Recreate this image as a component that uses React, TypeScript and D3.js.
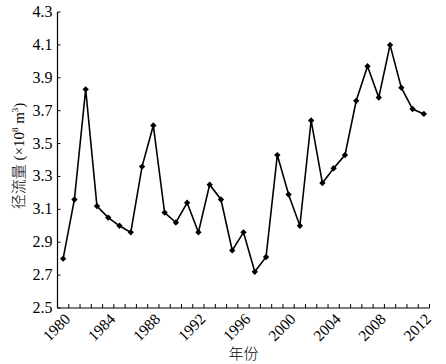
import React from 'react';
import * as d3 from 'd3';

// runoff per year (10^8 m3)
const years = d3.range(1980, 2013);
const runoff = [
  2.80, 3.16, 3.83, 3.12, 3.05, 3.00, 2.96, 3.36, 3.61, 3.08,
  3.02, 3.14, 2.96, 3.25, 3.16, 2.85, 2.96, 2.72, 2.81, 3.43,
  3.19, 3.00, 3.64, 3.26, 3.35, 3.43, 3.76, 3.97, 3.78, 4.10,
  3.84, 3.71, 3.68,
];
const yTicks = [2.5, 2.7, 2.9, 3.1, 3.3, 3.5, 3.7, 3.9, 4.1, 4.3];
const xLabels = [1980, 1984, 1988, 1992, 1996, 2000, 2004, 2008, 2012];

const W = 446;
const H = 364;
const left = 57.5;
const right = 429.5;
const top = 12;
const bottom = 308;
const serif = 'Liberation Serif';
const cjk = 'Noto Sans CJK SC';

export default function App() {
  const x = d3.scaleBand<number>().domain(years).range([left, right]).paddingInner(0);
  const y = d3.scaleLinear().domain([2.5, 4.3]).range([bottom, top]);
  const cx = (yr: number) => (x(yr) as number) + x.bandwidth() / 2;

  const line = d3.line<number>()
    .x((_, i) => cx(years[i]))
    .y(d => y(d));

  const marker = d3.symbol().type(d3.symbolSquare).size(20)();

  // ticks sit on the boundaries between years
  const bounds = years.map(yr => x(yr) as number).concat([right]).slice(1);

  return (
    <svg width={W} height={H} style={{ position: 'absolute', left: 0, top: 0, background: '#fff' }}>
      {/* axes */}
      <line x1={left} x2={left} y1={top} y2={bottom} stroke="#000" strokeWidth={1.2} />
      <line x1={left} x2={right} y1={bottom} y2={bottom} stroke="#000" strokeWidth={1.2} />

      {yTicks.map(t => (
        <g key={t}>
          <line x1={left} x2={left + 3} y1={y(t)} y2={y(t)} stroke="#000" strokeWidth={1} />
          <text x={left - 5} y={y(t) + 5} textAnchor="end" fill="#000"
            style={{ fontFamily: serif, fontSize: '16px' }}>
            {t.toFixed(1)}
          </text>
        </g>
      ))}

      {bounds.map((b, i) => (
        <line key={i} x1={b} x2={b} y1={bottom} y2={bottom - 4} stroke="#000" strokeWidth={1} />
      ))}

      {xLabels.map(yr => (
        <text key={yr} transform={`translate(${cx(yr) + 8},${bottom + 12}) rotate(-45)`}
          textAnchor="end" fill="#000" style={{ fontFamily: serif, fontSize: '15.5px' }}>
          {yr}
        </text>
      ))}

      {/* series */}
      <path d={line(runoff) || ''} fill="none" stroke="#000" strokeWidth={1.6} />
      {runoff.map((v, i) => (
        <path key={i} d={marker || ''} fill="#000"
          transform={`translate(${cx(years[i])},${y(v)}) rotate(45)`} />
      ))}

      {/* titles */}
      <text x={(left + right) / 2} y={H - 5} textAnchor="middle" fill="#000"
        style={{ fontFamily: cjk, fontSize: '15px', fontWeight: 300 }}>年份</text>
      <text transform={`translate(24,${(top + bottom) / 2 - 4}) rotate(-90)`} textAnchor="middle" fill="#000"
        style={{ fontFamily: serif, fontSize: '15px' }}>
        <tspan style={{ fontFamily: cjk, fontWeight: 300 }}>径流量</tspan>
        <tspan> (×10</tspan>
        <tspan style={{ fontSize: '9px' }} dy="-6">8</tspan>
        <tspan dy="6"> m</tspan>
        <tspan style={{ fontSize: '9px' }} dy="-6">3</tspan>
        <tspan dy="6">)</tspan>
      </text>
    </svg>
  );
}
